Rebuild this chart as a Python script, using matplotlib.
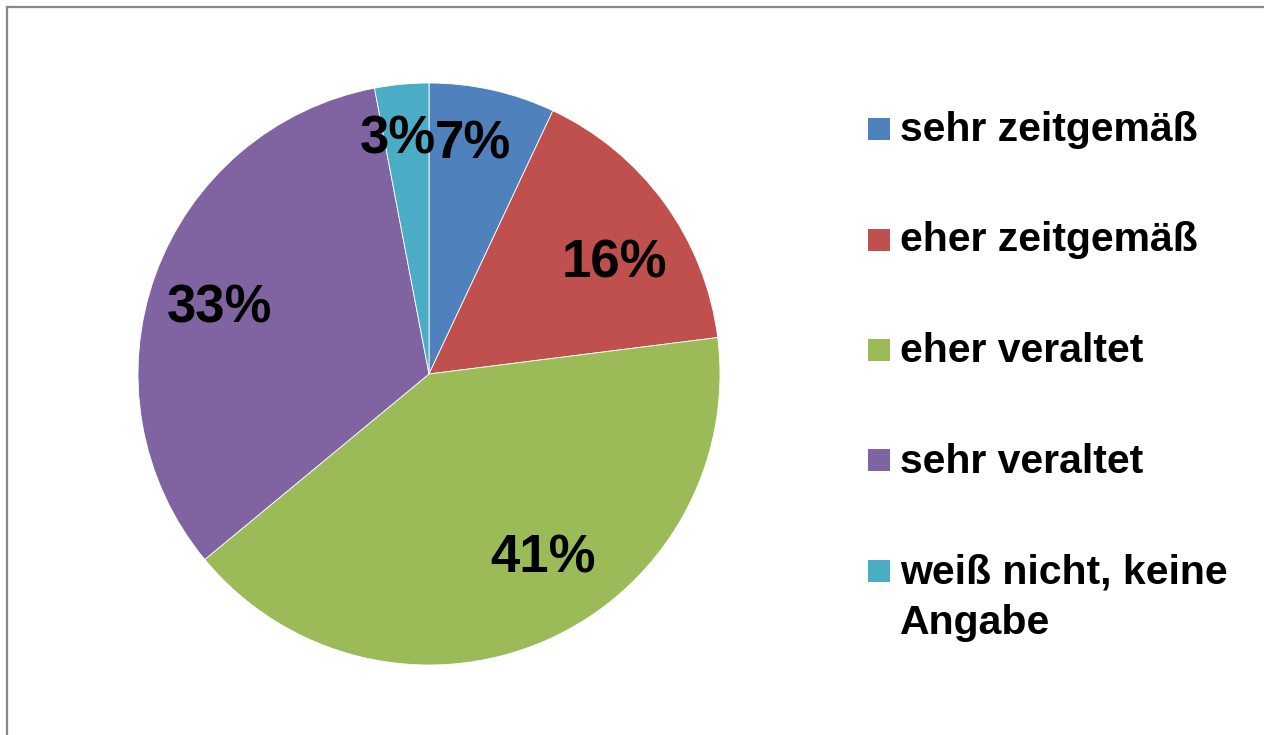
import numpy as np
import matplotlib.pyplot as plt
from matplotlib.lines import Line2D
from matplotlib.patches import Rectangle

kategorien = ['sehr zeitgemäß', 'eher zeitgemäß', 'eher veraltet', 'sehr veraltet',
              'weiß nicht, keine\nAngabe']
anteile = [7, 16, 41, 33, 3]
farben = ['#4F81BD', '#C0504D', '#9BBB59', '#8064A2', '#4BACC6']

# Abstand der Prozentbeschriftung vom Mittelpunkt (Anteil des Radius) und Winkelkorrektur
label_r = [0.82, 0.75, 0.73, 0.76, 0.83]
label_dw = [2, -4, 9, 1, 2]

plt.rcParams['font.family'] = ['Liberation Sans', 'DejaVu Sans']
plt.rcParams['font.weight'] = 'bold'

W, H = 1264, 735
fig = plt.figure(figsize=(W / 100, H / 100), dpi=100)
ax = fig.add_axes([138 / W, 70 / H, 582 / W, 582 / H])

wedges, _ = ax.pie(anteile, colors=farben, startangle=90, counterclock=False,
                   wedgeprops=dict(edgecolor='white', linewidth=0.6))
ax.set_xlim(-1, 1)
ax.set_ylim(-1, 1)

for w, v, r, dw in zip(wedges, anteile, label_r, label_dw):
    ang = np.deg2rad((w.theta1 + w.theta2) / 2 + dw)
    ax.text(r * np.cos(ang), r * np.sin(ang), f'{v}%', ha='center', va='center_baseline',
            fontsize=38, fontweight='bold', color='black')

# Legende (von Hand, damit die Markierung an der ersten Zeile steht)
row0, dy, zeile = 129, 110.5, 51
for i, (name, c) in enumerate(zip(kategorien, farben)):
    yc = row0 + i * dy
    fig.add_artist(Rectangle((868 / W, 1 - (yc + 11) / H), 22 / W, 22 / H,
                             transform=fig.transFigure, facecolor=c, edgecolor='none'))
    for k, teil in enumerate(name.split('\n')):
        fig.text(900 / W, 1 - (yc + 12 + k * zeile) / H, teil, ha='left', va='baseline',
                 fontsize=29.5, fontweight='bold', color='black')

# grauer Rahmen oben und links
col = '#888888'
fig.add_artist(Line2D([7 / W, 1], [1 - 7 / H, 1 - 7 / H], color=col, lw=1.6,
                      transform=fig.transFigure))
fig.add_artist(Line2D([7 / W, 7 / W], [0, 1 - 7 / H], color=col, lw=1.6,
                      transform=fig.transFigure))

fig.savefig('out.png', dpi=100)
